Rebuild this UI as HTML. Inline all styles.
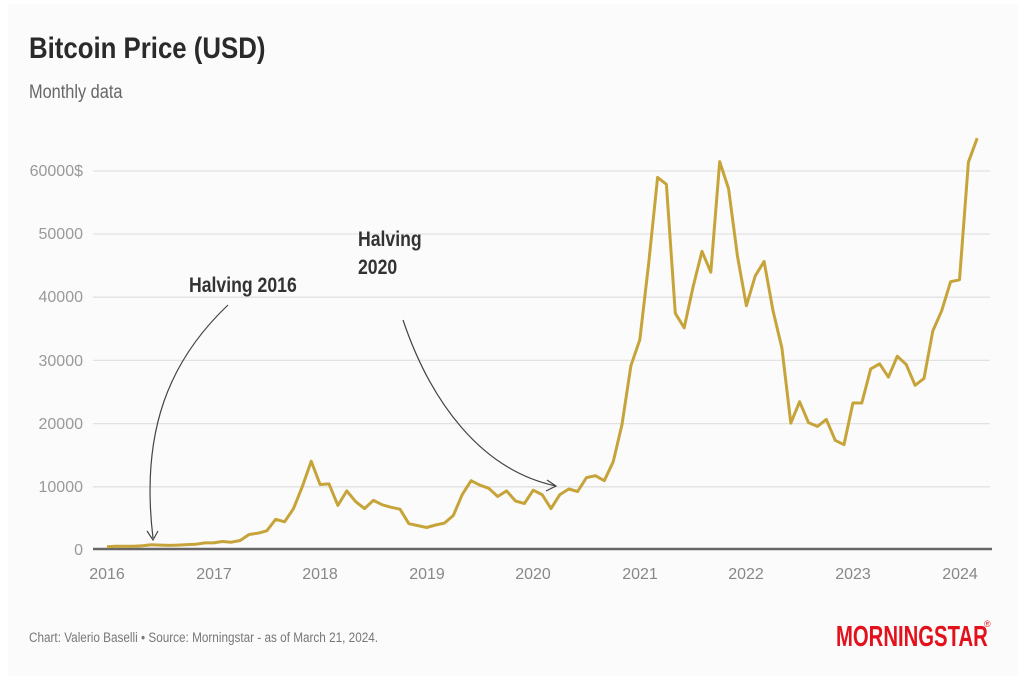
<!DOCTYPE html><html><head><style>
body{margin:0;background:#fff}
svg{display:block}
text{font-family:"Liberation Sans",sans-serif}
</style></head><body>
<svg width="1024" height="684" viewBox="0 0 1024 684">
<rect x="0" y="0" width="1024" height="684" fill="#fff"/>
<rect x="8" y="4" width="1010" height="672" fill="#fbfbfb"/>
<text x="29" y="58" font-size="30" font-weight="bold" fill="#2a2a2a" transform="translate(29 0) scale(0.86 1) translate(-29 0)">Bitcoin Price (USD)</text>
<text x="29" y="98" font-size="19" fill="#666" transform="translate(29 0) scale(0.86 1) translate(-29 0)">Monthly data</text>
<g stroke="#e2e2e2" stroke-width="1.3">
<line x1="93" x2="990" y1="486.8" y2="486.8"/><line x1="93" x2="990" y1="423.6" y2="423.6"/>
<line x1="93" x2="990" y1="360.4" y2="360.4"/><line x1="93" x2="990" y1="297.2" y2="297.2"/>
<line x1="93" x2="990" y1="234" y2="234"/><line x1="93" x2="990" y1="171" y2="171"/>
</g>
<line x1="93" x2="992" y1="549" y2="549" stroke="#666" stroke-width="2.5"/>
<g font-size="16" fill="#999" text-anchor="end">
<text x="83" y="555">0</text><text x="83" y="492">10000</text><text x="83" y="429">20000</text>
<text x="83" y="366">30000</text><text x="83" y="302">40000</text><text x="83" y="239">50000</text><text x="83" y="176">60000$</text>
</g>
<g font-size="16" fill="#888" text-anchor="middle">
<text x="107" y="579">2016</text><text x="214" y="579">2017</text><text x="320" y="579">2018</text>
<text x="427" y="579">2019</text><text x="533" y="579">2020</text><text x="640" y="579">2021</text>
<text x="746" y="579">2022</text><text x="853" y="579">2023</text><text x="960" y="579">2024</text>
</g>
<polyline id="p" fill="none" stroke="#c7a43a" stroke-width="3" stroke-linejoin="round" points=""/>
<path d="M228 305 C170 360 140 430 153 538" fill="none" stroke="#444" stroke-width="1.2"/>
<path d="M147 531 L153 540 L158 531" fill="none" stroke="#444" stroke-width="1.2"/>
<path d="M403 320 C430 400 480 470 556 486" fill="none" stroke="#444" stroke-width="1.2"/>
<path d="M547 480 L556 486 L546 491" fill="none" stroke="#444" stroke-width="1.2"/>
<text x="189" y="292" font-size="21" font-weight="bold" fill="#333" transform="translate(189 0) scale(0.84 1) translate(-189 0)">Halving 2016</text>
<text x="358" y="246" font-size="21" font-weight="bold" fill="#333" transform="translate(358 0) scale(0.84 1) translate(-358 0)">Halving</text>
<text x="358" y="274" font-size="21" font-weight="bold" fill="#333" transform="translate(358 0) scale(0.84 1) translate(-358 0)">2020</text>
<text x="29" y="642" font-size="14" fill="#777" transform="translate(29 0) scale(0.84 1) translate(-29 0)">Chart: Valerio Baselli • Source: Morningstar - as of March 21, 2024.</text>
<text x="836" y="646" font-size="29" font-weight="bold" fill="#e3111b" transform="translate(836 0) scale(0.7 1) translate(-836 0)">MORNINGSTAR</text>
<text x="984" y="627" font-size="9" fill="#e3111b">®</text>
</svg>
<script>
var v=[0.37,0.44,0.42,0.45,0.53,0.67,0.62,0.57,0.61,0.7,0.74,0.96,
0.97,1.19,1.08,1.35,2.3,2.5,2.88,4.7,4.3,6.4,9.9,13.9,
10.2,10.3,6.9,9.2,7.5,6.4,7.7,7.0,6.6,6.3,4.0,3.7,
3.4,3.8,4.1,5.3,8.6,10.8,10.1,9.6,8.3,9.2,7.6,7.2,
9.3,8.6,6.4,8.6,9.5,9.1,11.3,11.6,10.8,13.8,19.7,29.0,
33.1,45.2,58.8,57.7,37.3,35.0,41.5,47.1,43.8,61.3,57.0,46.3,
38.5,43.2,45.5,37.7,31.8,19.9,23.3,20.0,19.4,20.5,17.2,16.5,
23.1,23.1,28.5,29.3,27.2,30.5,29.2,25.9,27.0,34.5,37.7,42.3,
42.6,61.2,65.0];
var pts=v.map(function(y,i){return (107+i*8.88).toFixed(1)+","+(549-y*6.32).toFixed(1)}).join(" ");
document.getElementById("p").setAttribute("points",pts);
</script>
</body></html>
